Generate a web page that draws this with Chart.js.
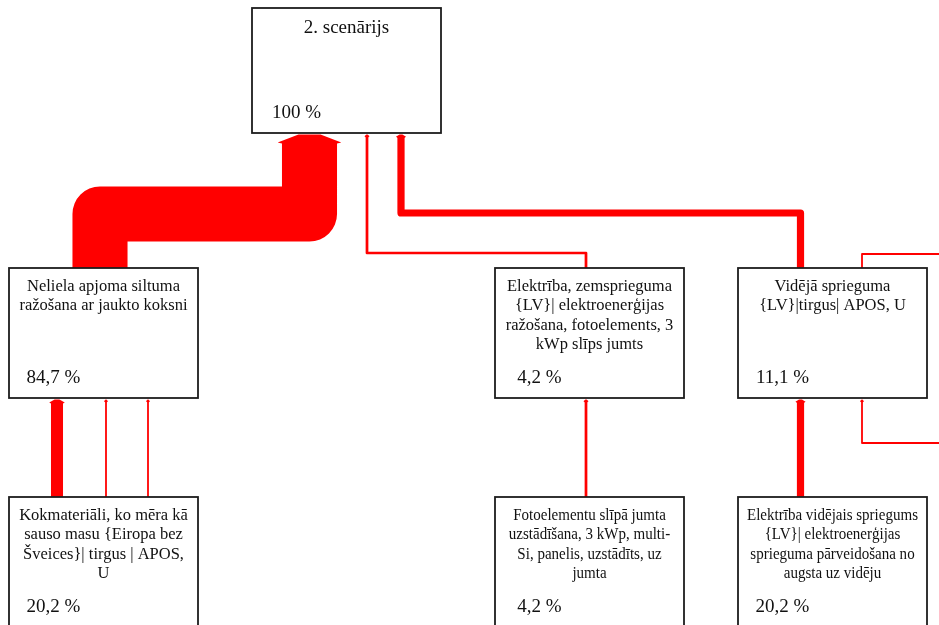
<!DOCTYPE html>
<html><head><meta charset="utf-8">
<script src="https://cdn.jsdelivr.net/npm/chart.js@4.4.0/dist/chart.umd.min.js"></script>
<style>html,body{margin:0;padding:0;background:#fff;}canvas{display:block;}</style>
</head><body>
<canvas id="c" width="939" height="625"></canvas>
<script>
// ---------------- data ----------------
const nodeNames = [
  ["2. scenārijs"],
  ["Neliela apjoma siltuma", "ražošana ar jaukto koksni"],
  ["Elektrība, zemsprieguma", "{LV}| elektroenerģijas", "ražošana, fotoelements, 3", "kWp slīps jumts"],
  ["Vidējā sprieguma", "{LV}|tirgus| APOS, U"],
  ["Kokmateriāli, ko mēra kā", "sauso masu {Eiropa bez", "Šveices}| tirgus | APOS,", "U"],
  ["Fotoelementu slīpā jumta", "uzstādīšana, 3 kWp, multi-", "Si, panelis, uzstādīts, uz", "jumta"],
  ["Elektrība vidējais spriegums", "{LV}| elektroenerģijas", "sprieguma pārveidošana no", "augsta uz vidēju"],
  [], []            // nodes outside the visible crop (to the right)
];
const nodeShares  = [100, 84.7, 4.2, 11.1, 20.2, 4.2, 20.2, null, null];
const nodeColumns = [1, 0, 2, 3, 0, 2, 3, 4, 4];
const nodeRows    = [0, 1, 1, 1, 2, 2, 2, 0, 2];

// links: child (source) -> parent (target), value in % of total
const linkSources = [1, 2, 3, 4, 4, 4, 5, 6, 3, 8];
const linkTargets = [0, 0, 0, 1, 1, 1, 2, 3, 7, 3];
const linkValues  = [84.7, 4.2, 11.1, 18.5, 2.0, 2.0, 4.2, 11.1, 2.0, 2.0];

// ---------------- layout (positions / styles) ----------------
const colStep = 243, colStart = 9, boxW = 189;
const rowTop = [8, 268, 497];
const boxH = [125, 130, 130];
const nodeFontPx = [19, 16.5, 16.5, 16.5, 16.5, 16.5, 16.5, 16.5, 16.5];
const nodeSqueeze = [1, 1, 1, 1, 1, 0.91, 0.91, 1, 1];
const linkSrcOffset = [91, 91, 62.5, 48, 97, 139, 91, 62.5, 124, 40];
const linkTgtOffset = [57.5, 115, 149, 48, 97, 139, 91, 62.5, 40, 124];
const linkLaneY     = [214, 253, 213, null, null, null, null, null, 254, 443];
const pxPerPercent = 0.65, minWidth = 1.8;
const RED = '#ff0000';

const boxLeft = n => colStart + colStep * nodeColumns[n];
const boxTop = n => rowTop[nodeRows[n]];
const boxBottom = n => rowTop[nodeRows[n]] + boxH[nodeRows[n]];
const linkWidth = i => Math.max(minWidth, linkValues[i] * pxPerPercent);
const headH = w => 3 + w * 0.12;
const headA = w => 1 + w * 0.06;

function linkPath(i) {
  const s = linkSources[i], t = linkTargets[i];
  const sx = boxLeft(s) + linkSrcOffset[i], sy = boxTop(s);
  const tx = boxLeft(t) + linkTgtOffset[i];
  const ty = boxBottom(t) + headH(linkWidth(i)) - 0.5;
  const lane = linkLaneY[i];
  if (lane === null) return [{x: sx, y: sy}, {x: tx, y: ty}];
  return [{x: sx, y: sy}, {x: sx, y: lane}, {x: tx, y: lane}, {x: tx, y: ty}];
}

const datasets = linkSources.map((s, i) => ({
  data: linkPath(i),
  showLine: true,
  borderColor: RED,
  backgroundColor: RED,
  borderWidth: linkWidth(i),
  borderJoinStyle: 'round',
  borderCapStyle: 'butt',
  pointRadius: 0,
  pointHoverRadius: 0,
  tension: 0,
  fill: false
}));

const fmt = v => String(v).replace('.', ',') + ' %';

const nodePlugin = {
  id: 'nodes',
  afterDatasetsDraw(chart) {
    const ctx = chart.ctx, X = chart.scales.x, Y = chart.scales.y;
    ctx.save();
    // arrow heads at parent boxes
    linkTargets.forEach((t, i) => {
      const w = linkWidth(i), h = headH(w), a = headA(w);
      const cx = X.getPixelForValue(boxLeft(t) + linkTgtOffset[i]);
      const by = Y.getPixelForValue(boxBottom(t));
      ctx.fillStyle = RED;
      ctx.beginPath();
      ctx.moveTo(cx - w / 2, by + h + 1);
      ctx.lineTo(cx - w / 2 - a, by + h);
      ctx.lineTo(cx - w * 0.2, by + 1.5);
      ctx.lineTo(cx + w * 0.2, by + 1.5);
      ctx.lineTo(cx + w / 2 + a, by + h);
      ctx.lineTo(cx + w / 2, by + h + 1);
      ctx.closePath();
      ctx.fill();
    });
    // boxes
    nodeNames.forEach((lines, n) => {
      if (nodeShares[n] === null) return;
      const x0 = X.getPixelForValue(boxLeft(n));
      const x1 = X.getPixelForValue(boxLeft(n) + boxW);
      const y0 = Y.getPixelForValue(boxTop(n));
      const y1 = Y.getPixelForValue(boxBottom(n));
      ctx.fillStyle = '#ffffff';
      ctx.fillRect(x0, y0, x1 - x0, y1 - y0);
      ctx.strokeStyle = '#1c1c1c';
      ctx.lineWidth = 1.8;
      ctx.strokeRect(x0, y0, x1 - x0, y1 - y0);
      ctx.fillStyle = '#111111';
      ctx.textAlign = 'center';
      ctx.textBaseline = 'alphabetic';
      const isRoot = nodeRows[n] === 0;
      ctx.font = nodeFontPx[n] + 'px "Liberation Serif", "Times New Roman", serif';
      const firstBase = y0 + (isRoot ? 25 : 22.5);
      lines.forEach((ln, k) => {
        const mw = ctx.measureText(ln).width * nodeSqueeze[n];
        ctx.fillText(ln, (x0 + x1) / 2, firstBase + k * 19.5, mw);
      });
      ctx.font = '19px "Liberation Serif", "Times New Roman", serif';
      ctx.fillText(fmt(nodeShares[n]), x0 + 44.5, y1 - 15.5);
    });
    ctx.restore();
  }
};

new Chart(document.getElementById('c'), {
  type: 'scatter',
  data: {datasets},
  options: {
    responsive: false,
    devicePixelRatio: 1,
    animation: false,
    events: [],
    layout: {padding: 0},
    plugins: {legend: {display: false}, tooltip: {enabled: false}},
    scales: {
      x: {type: 'linear', min: 0, max: 939, display: false},
      y: {type: 'linear', min: 0, max: 625, reverse: true, display: false}
    }
  },
  plugins: [nodePlugin]
});
</script>
</body></html>
